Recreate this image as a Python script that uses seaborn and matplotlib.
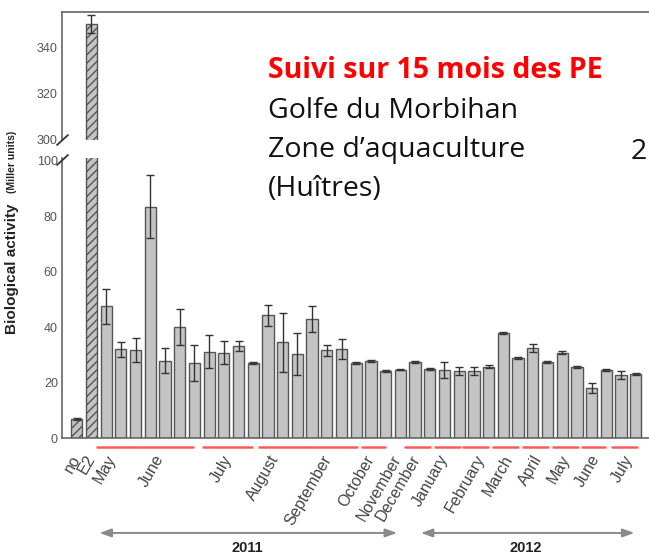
import numpy as np
import pandas as pd
import seaborn as sns
import matplotlib.pyplot as plt
from matplotlib.transforms import blended_transform_factory

# bar values (Miller units) and error bars
samples = ["no", "E2"] + ["s%d" % i for i in range(2, 39)]
activity = [7, 350, 47.5, 32, 31.8, 83.5, 27.8, 40, 27, 31.1, 30.8, 33.2, 27.1,
            44.2, 34.5, 30.2, 43, 31.7, 32.2, 27.2, 27.8, 24.2, 24.7, 27.3, 24.8,
            24.5, 24.2, 24.2, 25.7, 37.8, 28.8, 32.4, 27.5, 30.8, 25.7, 17.9,
            24.5, 22.7, 23.1]
err = [0.4, 4, 6.2, 2.6, 4.2, 11.5, 4.5, 6.4, 6.4, 5.9, 4.2, 1.8, 0.4,
       3.8, 10.7, 7.6, 4.6, 2, 3.6, 0.4, 0.5, 0.4, 0.3, 0.4, 0.3,
       2.8, 1.5, 1.5, 0.5, 0.4, 0.4, 1.4, 0.3, 0.5, 0.4, 1.8,
       0.4, 1.5, 0.4]

tick_pos = [0, 1, 2.45, 5.7, 10.3, 13.5, 17.1, 20.0, 21.8, 23.1, 25.0, 27.5,
            29.4, 31.4, 33.3, 35.3, 37.6]
tick_labels = ["no", "E2", "May", "June", "July", "August", "September", "October",
               "November", "December", "January", "February", "March", "April",
               "May", "June", "July"]

# red lines grouping samples by month (start, end in bar units)
month_spans = [(1.36, 3.74), (3.81, 7.89), (8.57, 11.9), (12.38, 15.65),
               (15.7, 19.05), (19.4, 20.95), (22.3, 24.0), (24.35, 26.05),
               (26.26, 27.96), (28.3, 30.0), (30.34, 32.04), (32.4, 34.1),
               (34.35, 35.9), (36.4, 38.1)]

years = ["2011", "2012"]
year_spans = [(1.36, 21.97), (23.2, 38.1)]

title_lines = ["Suivi sur 15 mois des PE", "Golfe du Morbihan",
               "Zone d\u2019aquaculture", "(Hu\u00eetres)"]

df = pd.DataFrame({"sample": samples, "activity": activity, "err": err})

sns.set_style("white")
plt.rcParams["font.family"] = ["Liberation Sans", "DejaVu Sans"]
plt.rcParams["hatch.color"] = "#333333"
plt.rcParams["hatch.linewidth"] = 1.0

fig = plt.figure(figsize=(6.49, 5.57), dpi=100)
ax_lo = fig.add_axes([0.0955, 0.2136, 0.9045, 0.5027])
ax_hi = fig.add_axes([0.0955, 0.7487, 0.9045, 0.2289])

for ax in (ax_lo, ax_hi):
    sns.barplot(data=df, x="sample", y="activity", order=samples, color="#c4c4c4",
                saturation=1, width=0.76, edgecolor="#555555", linewidth=1,
                errorbar=None, ax=ax)
    for p in ax.patches[:2]:
        p.set_hatch("////")
    ax.errorbar(range(len(samples)), activity, yerr=err, fmt="none",
                ecolor="#333333", elinewidth=1, capsize=3, capthick=1)
    ax.set_xlim(-1.0, 38.9)
    ax.set_xlabel("")
    ax.set_ylabel("")
    ax.tick_params(axis="y", direction="in", length=4, width=1, colors="#666666",
                   labelcolor="#555555", labelsize=9, pad=3)
    for s in ax.spines.values():
        s.set_color("#666666")
        s.set_linewidth(1.2)
    ax.spines["right"].set_visible(False)

ax_lo.set_ylim(0, 101)
ax_lo.set_yticks([0, 20, 40, 60, 80, 100])
ax_lo.spines["top"].set_visible(False)
ax_lo.set_xticks(tick_pos)
ax_lo.set_xticklabels(tick_labels, rotation=60, ha="right", va="center",
                      rotation_mode="anchor")
ax_lo.tick_params(axis="x", length=0, pad=13, labelsize=11.5, labelcolor="#444444")

ax_hi.set_ylim(300, 355)
ax_hi.set_yticks([300, 320, 340])
ax_hi.set_xticks([])
ax_hi.spines["bottom"].set_visible(False)

# axis break marks
for yb in (140, 160):
    fig.add_artist(plt.Line2D([57 / 649, 68 / 649],
                              [1 - (yb + 5) / 557, 1 - (yb - 5) / 557],
                              color="#333333", lw=1.3))

trans = blended_transform_factory(ax_lo.transData, ax_lo.transAxes)
for a, b in month_spans:
    ax_lo.plot([a, b], [-0.032, -0.032], color="#ff5a5a", lw=1.8,
               transform=trans, clip_on=False)

for name, (a, b) in zip(years, year_spans):
    ax_lo.annotate("", xy=(a, -0.339), xytext=(b, -0.339), xycoords=trans,
                   textcoords=trans,
                   arrowprops=dict(arrowstyle="<|-|>,head_width=0.25,head_length=0.7",
                                   color="#8a8a8a", lw=1.4))
    ax_lo.text((a + b) / 2 - 0.1, -0.393, name, transform=trans, ha="center",
               va="center", fontsize=10.5, fontweight="bold", color="#222222")

fig.text(12 / 649, 1 - 334 / 557, "Biological activity", rotation=90, ha="center",
         va="bottom", fontsize=11, fontweight="bold", color="#222222")
fig.text(12 / 649, 1 - 193 / 557, "(Miller units)", rotation=90, ha="center",
         va="bottom", fontsize=7.5, fontweight="bold", color="#222222")

ys = [71, 111, 150, 189]
for i, (line, yy) in enumerate(zip(title_lines, ys)):
    fig.text(268 / 649, 1 - yy / 557, line, ha="left", va="center",
             fontsize=20.5, family=["Open Sans", "DejaVu Sans"],
             fontweight="bold" if i == 0 else "normal",
             color="#ff0000" if i == 0 else "#111111")
fig.text(647 / 649, 1 - 152 / 557, "2", ha="right", va="center", fontsize=20.5,
         family=["Open Sans", "DejaVu Sans"], color="#111111")

fig.savefig("out.png", dpi=100)
